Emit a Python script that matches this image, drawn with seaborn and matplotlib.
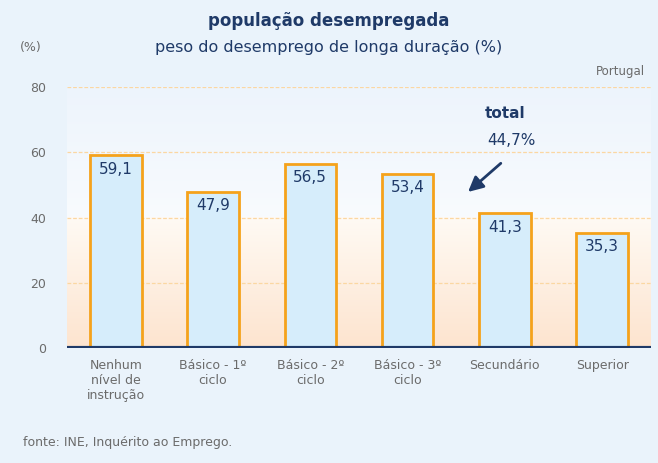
import numpy as np
import seaborn as sns
import matplotlib.pyplot as plt
from matplotlib.colors import LinearSegmentedColormap

categories = ["Nenhum\nnível de\ninstrução", "Básico - 1º\nciclo", "Básico - 2º\nciclo",
              "Básico - 3º\nciclo", "Secundário", "Superior"]
values = [59.1, 47.9, 56.5, 53.4, 41.3, 35.3]
labels = ["59,1", "47,9", "56,5", "53,4", "41,3", "35,3"]
total_label = "44,7%"

sns.set_style("white")
plt.rcParams['font.family'] = ['DejaVu Sans']

navy = "#1f3a68"
grey = "#6b6b6b"

fig = plt.figure(figsize=(6.58, 4.63), dpi=100, facecolor="#eaf3fb")
ax = fig.add_axes([0.102, 0.248, 0.887, 0.564])

# background: bluish above 40, white-to-peach below
grad = LinearSegmentedColormap.from_list(
    "bg", [(0, "#fde4cf"), (0.499, "#fffaf4"), (0.501, "#f8fbfe"), (1, "#edf4fc")])
ax.imshow(np.linspace(1, 0, 256).reshape(-1, 1), cmap=grad, aspect="auto",
          extent=(-0.5, 5.5, 0, 80), zorder=0, interpolation="bilinear")

for y in [20, 40, 60, 80]:
    ax.axhline(y, color="#fbd7a2", lw=0.9, ls=(0, (3, 1.5)), zorder=1)

sns.barplot(x=categories, y=values, color="#d6edfb", saturation=1,
            edgecolor="#f5a21b", linewidth=2, width=0.53, ax=ax, zorder=2)

for i, (v, t) in enumerate(zip(values, labels)):
    ax.text(i, v - 2.0, t, ha="center", va="top", fontsize=11, color=navy, zorder=3)

ax.axhline(0, color=navy, lw=3, zorder=4)

ax.text(4.0, 72, "total", ha="center", va="center", fontsize=11,
        fontweight="bold", color=navy)
ax.text(4.07, 63.5, total_label, ha="center", va="center", fontsize=11, color=navy)
ax.annotate("", xy=(3.6, 47.3), xytext=(3.98, 57.2),
            arrowprops=dict(arrowstyle="-|>,head_width=0.45,head_length=0.9",
                            color=navy, lw=2))

ax.set_xlim(-0.5, 5.5)
ax.set_ylim(0, 80)
ax.set_yticks([0, 20, 40, 60, 80])
ax.tick_params(axis="y", length=0, labelsize=9, labelcolor=grey, pad=15)
ax.tick_params(axis="x", length=0, labelsize=9, labelcolor=grey, pad=8)
for s in ax.spines.values():
    s.set_visible(False)
ax.set_xlabel("")
ax.set_ylabel("")

fig.text(0.5, 0.955, "população desempregada", ha="center", va="center",
         fontsize=12, fontweight="bold", color=navy)
fig.text(0.5, 0.898, "peso do desemprego de longa duração (%)", ha="center",
         va="center", fontsize=11.5, color=navy)
fig.text(0.03, 0.898, "(%)", ha="left", va="center", fontsize=9, color=grey)
fig.text(0.98, 0.845, "Portugal", ha="right", va="center", fontsize=8.5, color=grey)
fig.text(0.035, 0.045, "fonte: INE, Inquérito ao Emprego.", ha="left", va="center",
         fontsize=9, color=grey)

fig.savefig("out.png", dpi=100, facecolor=fig.get_facecolor())
